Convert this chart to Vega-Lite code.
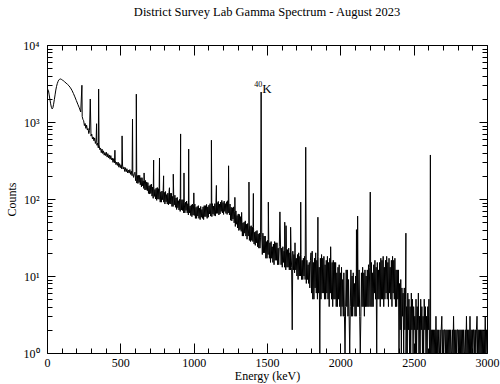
{
  "$schema": "https://vega.github.io/schema/vega-lite/v6.json",
  "width": 440,
  "height": 308,
  "autosize": "none",
  "padding": {"left": 47, "top": 45, "right": 13, "bottom": 31},
  "title": {
    "text": "District Survey Lab Gamma Spectrum - August 2023",
    "font": "Liberation Serif",
    "fontSize": 12.5,
    "fontWeight": "normal",
    "color": "black",
    "anchor": "middle",
    "offset": 21
  },
  "config": {"view": {"stroke": null}, "axis": {"grid": false, "labelFlush": false}},
  "datasets": {
    "spectrum": [
      {"e":0,"c":2250},{"e":5,"c":2650},{"e":10,"c":2550},{"e":15,"c":2250},{"e":20,"c":1950},{"e":25,"c":1720},{"e":30,"c":1550},{"e":35,"c":1480},{"e":40,"c":1530},{"e":45,"c":1700},
      {"e":50,"c":1950},{"e":55,"c":2250},{"e":60,"c":2600},{"e":65,"c":2900},{"e":70,"c":3150},{"e":75,"c":3350},{"e":80,"c":3500},{"e":85,"c":3580},{"e":90,"c":3620},{"e":95,"c":3610},
      {"e":100,"c":3560},{"e":105,"c":3500},{"e":110,"c":3450},{"e":115,"c":3400},{"e":120,"c":3330},{"e":130,"c":3200},{"e":140,"c":3080},{"e":150,"c":2950},{"e":160,"c":2780},{"e":170,"c":2580},
      {"e":180,"c":2350},{"e":190,"c":2120},{"e":200,"c":1900},{"e":210,"c":1700},{"e":220,"c":1530},{"e":230,"c":1350},{"e":238,"c":3000},{"e":240,"c":1180},{"e":245,"c":1080},
      {"e":250,"c":1039},{"e":255,"c":898},{"e":260,"c":956},{"e":265,"c":827},{"e":270,"c":910},{"e":275,"c":787},{"e":280,"c":822},{"e":285,"c":707},{"e":290,"c":774},{"e":295,"c":1990},
      {"e":300,"c":656},{"e":305,"c":698},{"e":310,"c":602},{"e":315,"c":639},{"e":320,"c":570},{"e":325,"c":621},{"e":330,"c":526},{"e":335,"c":575},{"e":338,"c":950},{"e":340,"c":499},
      {"e":345,"c":532},{"e":350,"c":461},{"e":352,"c":2680},{"e":355,"c":505},{"e":360,"c":437},{"e":365,"c":460},{"e":370,"c":400},{"e":375,"c":445},{"e":380,"c":390},{"e":385,"c":422},
      {"e":390,"c":371},{"e":395,"c":402},{"e":400,"c":366},{"e":405,"c":404},{"e":410,"c":350},{"e":415,"c":388},{"e":420,"c":342},{"e":425,"c":373},{"e":430,"c":329},{"e":435,"c":366},
      {"e":440,"c":322},{"e":445,"c":341},{"e":450,"c":299},{"e":455,"c":335},{"e":460,"c":295},{"e":463,"c":430},{"e":465,"c":319},{"e":470,"c":280},{"e":475,"c":301},{"e":480,"c":273},
      {"e":485,"c":301},{"e":490,"c":259},{"e":495,"c":288},{"e":500,"c":255},{"e":505,"c":278},{"e":510,"c":246},{"e":512,"c":660},{"e":515,"c":276},{"e":520,"c":245},{"e":525,"c":260},
      {"e":530,"c":228},{"e":535,"c":255},{"e":540,"c":226},{"e":545,"c":247},{"e":550,"c":218},{"e":555,"c":237},{"e":560,"c":217},{"e":565,"c":241},{"e":570,"c":209},{"e":575,"c":230},
      {"e":580,"c":201},{"e":583,"c":1090},{"e":585,"c":217},{"e":590,"c":191},{"e":595,"c":213},
      {"e":600,"c":223},{"e":604,"c":173},{"e":608,"c":221},{"e":609,"c":2300},{"e":612,"c":161},{"e":616,"c":202},{"e":620,"c":159},{"e":624,"c":203},{"e":628,"c":164},{"e":632,"c":203},
      {"e":636,"c":153},{"e":640,"c":189},{"e":644,"c":144},{"e":648,"c":189},{"e":652,"c":148},{"e":656,"c":172},{"e":660,"c":137},{"e":662,"c":218},{"e":664,"c":175},{"e":668,"c":131},
      {"e":672,"c":174},{"e":676,"c":132},{"e":680,"c":166},{"e":684,"c":128},{"e":688,"c":163},{"e":692,"c":118},{"e":696,"c":148},{"e":700,"c":116},{"e":704,"c":153},{"e":708,"c":118},
      {"e":712,"c":156},{"e":716,"c":109},{"e":720,"c":143},{"e":724,"c":102},{"e":727,"c":320},{"e":728,"c":147},{"e":732,"c":108},{"e":736,"c":133},{"e":740,"c":100},{"e":744,"c":138},
      {"e":748,"c":96},{"e":752,"c":141},{"e":756,"c":100},{"e":760,"c":136},{"e":764,"c":99},{"e":767,"c":340},{"e":768,"c":136},{"e":772,"c":91},{"e":776,"c":124},{"e":780,"c":91},
      {"e":784,"c":127},{"e":788,"c":98},{"e":792,"c":130},{"e":795,"c":200},{"e":796,"c":91},{"e":800,"c":122},{"e":804,"c":86},{"e":808,"c":125},{"e":812,"c":92},{"e":816,"c":114},
      {"e":820,"c":86},{"e":824,"c":119},{"e":828,"c":84},{"e":832,"c":123},{"e":835,"c":140},{"e":836,"c":87},{"e":840,"c":119},{"e":844,"c":86},{"e":848,"c":119},{"e":852,"c":80},
      {"e":856,"c":108},{"e":860,"c":80},{"e":861,"c":210},{"e":864,"c":110},{"e":868,"c":84},{"e":872,"c":112},{"e":876,"c":78},{"e":880,"c":103},{"e":884,"c":73},{"e":888,"c":105},
      {"e":892,"c":77},{"e":896,"c":95},{"e":900,"c":72},{"e":904,"c":99},{"e":908,"c":69},{"e":911,"c":700},{"e":912,"c":101},{"e":916,"c":72},{"e":920,"c":98},{"e":924,"c":71},
      {"e":928,"c":98},{"e":932,"c":66},{"e":934,"c":218},{"e":936,"c":90},{"e":940,"c":66},{"e":944,"c":91},{"e":948,"c":71},{"e":952,"c":94},{"e":956,"c":66},{"e":960,"c":87},
      {"e":964,"c":62},{"e":966,"c":445},{"e":968,"c":89},{"e":972,"c":66},{"e":976,"c":81},{"e":980,"c":61},{"e":984,"c":84},{"e":988,"c":59},{"e":992,"c":86},{"e":996,"c":62},
      {"e":1000,"c":85},{"e":1001,"c":120},{"e":1004,"c":61},{"e":1008,"c":86},{"e":1012,"c":56},{"e":1016,"c":78},{"e":1020,"c":56},{"e":1024,"c":80},{"e":1028,"c":60},{"e":1032,"c":82},
      {"e":1036,"c":56},{"e":1040,"c":76},{"e":1044,"c":54},{"e":1048,"c":80},{"e":1052,"c":58},{"e":1056,"c":73},{"e":1060,"c":56},{"e":1064,"c":79},{"e":1068,"c":54},{"e":1072,"c":82},
      {"e":1076,"c":59},{"e":1080,"c":82},{"e":1084,"c":59},{"e":1088,"c":85},{"e":1092,"c":56},{"e":1096,"c":79},{"e":1100,"c":58},{"e":1104,"c":83},{"e":1108,"c":64},{"e":1112,"c":87},
      {"e":1116,"c":60},{"e":1120,"c":83},{"e":1121,"c":580},{"e":1124,"c":59},{"e":1128,"c":87},{"e":1132,"c":64},{"e":1136,"c":81},{"e":1140,"c":61},{"e":1144,"c":87},{"e":1148,"c":60},
      {"e":1152,"c":91},{"e":1155,"c":150},{"e":1156,"c":65},{"e":1160,"c":90},{"e":1164,"c":65},{"e":1168,"c":93},{"e":1172,"c":62},{"e":1176,"c":86},{"e":1180,"c":64},{"e":1184,"c":91},
      {"e":1188,"c":69},{"e":1192,"c":96},{"e":1196,"c":66},{"e":1200,"c":90},{"e":1204,"c":63},{"e":1208,"c":94},{"e":1212,"c":69},{"e":1216,"c":87},{"e":1220,"c":65},{"e":1224,"c":92},
      {"e":1228,"c":63},{"e":1232,"c":95},{"e":1236,"c":66},{"e":1238,"c":270},{"e":1240,"c":89},{"e":1244,"c":62},{"e":1248,"c":86},{"e":1252,"c":53},{"e":1256,"c":78},{"e":1260,"c":52},
      {"e":1264,"c":77},{"e":1268,"c":55},{"e":1272,"c":79},{"e":1276,"c":49},{"e":1280,"c":69},{"e":1281,"c":105},{"e":1284,"c":44},{"e":1288,"c":70},{"e":1292,"c":47},{"e":1296,"c":61},
      {"e":1300,"c":42},{"e":1304,"c":64},{"e":1308,"c":39},{"e":1312,"c":63},{"e":1316,"c":40},{"e":1320,"c":59},{"e":1324,"c":38},{"e":1327,"c":67},{"e":1328,"c":58},{"e":1332,"c":33},
      {"e":1336,"c":49},{"e":1340,"c":33},{"e":1344,"c":50},{"e":1348,"c":36},{"e":1352,"c":52},{"e":1356,"c":33},{"e":1360,"c":47},{"e":1364,"c":30},{"e":1368,"c":48},{"e":1372,"c":33},
      {"e":1376,"c":42},{"e":1377,"c":166},{"e":1380,"c":29},{"e":1384,"c":44},{"e":1388,"c":28},{"e":1392,"c":45},{"e":1396,"c":29},{"e":1400,"c":43},{"e":1404,"c":28},{"e":1407,"c":118},
      {"e":1408,"c":43},{"e":1412,"c":26},{"e":1416,"c":37},{"e":1420,"c":25},{"e":1424,"c":38},{"e":1428,"c":27},{"e":1432,"c":39},{"e":1436,"c":24},{"e":1440,"c":35},{"e":1444,"c":23},
      {"e":1448,"c":36},{"e":1452,"c":23},{"e":1456,"c":32},{"e":1460,"c":2450},{"e":1464,"c":35},{"e":1468,"c":19},{"e":1472,"c":36},{"e":1476,"c":20},{"e":1480,"c":33},{"e":1484,"c":20},
      {"e":1488,"c":33},{"e":1492,"c":17},{"e":1496,"c":28},{"e":1500,"c":17},{"e":1504,"c":29},{"e":1508,"c":19},{"e":1509,"c":91},{"e":1512,"c":30},{"e":1516,"c":17},{"e":1520,"c":27},
      {"e":1524,"c":15},{"e":1528,"c":28},{"e":1532,"c":17},{"e":1536,"c":24},{"e":1540,"c":15},{"e":1544,"c":26},{"e":1548,"c":14},{"e":1552,"c":28},{"e":1556,"c":16},{"e":1560,"c":27},
      {"e":1564,"c":16},{"e":1568,"c":27},{"e":1572,"c":14},{"e":1576,"c":23},{"e":1580,"c":14},{"e":1584,"c":24},{"e":1588,"c":68},{"e":1592,"c":26},{"e":1596,"c":14},{"e":1600,"c":23},
      {"e":1604,"c":13},{"e":1608,"c":24},{"e":1612,"c":15},{"e":1616,"c":21},{"e":1620,"c":13},{"e":1621,"c":50},{"e":1624,"c":22},{"e":1628,"c":12},{"e":1630,"c":45},{"e":1632,"c":23},
      {"e":1636,"c":13},{"e":1640,"c":22},{"e":1644,"c":13},{"e":1648,"c":23},{"e":1652,"c":12},{"e":1656,"c":20},{"e":1660,"c":12},{"e":1661,"c":43},{"e":1664,"c":21},{"e":1668,"c":13},
      {"e":1672,"c":2},{"e":1676,"c":21},{"e":1680,"c":12},{"e":1684,"c":19},{"e":1688,"c":11},{"e":1691,"c":27},{"e":1692,"c":20},{"e":1696,"c":12},{"e":1700,"c":17},{"e":1704,"c":10},
      {"e":1708,"c":19},{"e":1712,"c":9},{"e":1716,"c":20},{"e":1720,"c":10},{"e":1724,"c":18},{"e":1728,"c":10},{"e":1730,"c":91},{"e":1732,"c":19},{"e":1736,"c":9},{"e":1740,"c":16},
      {"e":1744,"c":9},{"e":1748,"c":17},{"e":1752,"c":10},{"e":1756,"c":18},{"e":1760,"c":9},{"e":1764,"c":470},{"e":1768,"c":8},{"e":1772,"c":16},{"e":1776,"c":9},{"e":1780,"c":14},
      {"e":1784,"c":8},{"e":1788,"c":15},{"e":1792,"c":7},{"e":1796,"c":16},{"e":1800,"c":20},{"e":1804,"c":6},{"e":1808,"c":21},{"e":1812,"c":5},{"e":1816,"c":15},{"e":1820,"c":5},
      {"e":1824,"c":17},{"e":1828,"c":7},{"e":1832,"c":20},{"e":1836,"c":6},{"e":1840,"c":16},{"e":1844,"c":5},{"e":1847,"c":58},{"e":1848,"c":18},{"e":1852,"c":6},{"e":1856,"c":13},
      {"e":1860,"c":1},{"e":1864,"c":17},{"e":1868,"c":5},{"e":1872,"c":19},{"e":1876,"c":6},{"e":1880,"c":17},{"e":1884,"c":6},{"e":1888,"c":18},{"e":1892,"c":5},{"e":1896,"c":14},
      {"e":1900,"c":5},{"e":1904,"c":16},{"e":1908,"c":6},{"e":1912,"c":18},{"e":1916,"c":5},{"e":1920,"c":15},{"e":1924,"c":4},{"e":1928,"c":17},{"e":1932,"c":6},{"e":1934,"c":24},
      {"e":1936,"c":12},{"e":1940,"c":5},{"e":1944,"c":15},{"e":1948,"c":4},{"e":1952,"c":16},{"e":1956,"c":5},{"e":1960,"c":15},{"e":1964,"c":5},{"e":1968,"c":15},{"e":1972,"c":4},
      {"e":1976,"c":11},{"e":1980,"c":4},{"e":1984,"c":13},{"e":1988,"c":5},{"e":1992,"c":14},{"e":1996,"c":4},{"e":2000,"c":11},{"e":2004,"c":3},{"e":2008,"c":13},{"e":2012,"c":4},
      {"e":2016,"c":9},{"e":2020,"c":3},{"e":2024,"c":11},{"e":2028,"c":3},{"e":2032,"c":1},{"e":2036,"c":4},{"e":2040,"c":12},{"e":2044,"c":4},{"e":2048,"c":12},{"e":2052,"c":3},
      {"e":2056,"c":9},{"e":2060,"c":3},{"e":2064,"c":1},{"e":2068,"c":4},{"e":2072,"c":12},{"e":2076,"c":3},{"e":2080,"c":10},{"e":2084,"c":3},{"e":2088,"c":11},{"e":2092,"c":4},
      {"e":2096,"c":8},{"e":2100,"c":3},{"e":2104,"c":10},{"e":2108,"c":3},{"e":2110,"c":40},{"e":2112,"c":12},{"e":2116,"c":4},{"e":2118,"c":60},{"e":2120,"c":11},{"e":2124,"c":4},
      {"e":2128,"c":12},{"e":2132,"c":3},{"e":2136,"c":1},{"e":2140,"c":3},{"e":2144,"c":11},{"e":2148,"c":4},{"e":2152,"c":13},{"e":2156,"c":4},{"e":2160,"c":11},{"e":2164,"c":3},
      {"e":2168,"c":12},{"e":2172,"c":4},{"e":2176,"c":10},{"e":2180,"c":4},{"e":2184,"c":12},{"e":2188,"c":4},{"e":2192,"c":14},{"e":2196,"c":4},{"e":2200,"c":13},{"e":2204,"c":123},
      {"e":2208,"c":4},{"e":2212,"c":15},{"e":2216,"c":4},{"e":2220,"c":11},{"e":2224,"c":4},{"e":2228,"c":14},{"e":2232,"c":6},{"e":2236,"c":16},{"e":2240,"c":5},{"e":2244,"c":13},
      {"e":2248,"c":1},{"e":2252,"c":15},{"e":2256,"c":5},{"e":2260,"c":12},{"e":2264,"c":5},{"e":2268,"c":15},{"e":2272,"c":4},{"e":2276,"c":17},{"e":2280,"c":5},{"e":2284,"c":16},
      {"e":2288,"c":5},{"e":2292,"c":18},{"e":2296,"c":4},{"e":2300,"c":13},{"e":2304,"c":5},{"e":2308,"c":16},{"e":2312,"c":6},{"e":2316,"c":18},{"e":2320,"c":5},{"e":2324,"c":15},
      {"e":2328,"c":4},{"e":2332,"c":17},{"e":2336,"c":6},{"e":2340,"c":13},{"e":2344,"c":5},{"e":2348,"c":16},{"e":2352,"c":4},{"e":2356,"c":18},{"e":2360,"c":6},{"e":2364,"c":16},
      {"e":2368,"c":5},{"e":2372,"c":17},{"e":2376,"c":4},{"e":2380,"c":12},{"e":2384,"c":4},{"e":2388,"c":12},{"e":2392,"c":5},{"e":2396,"c":12},{"e":2400,"c":1},{"e":2404,"c":8},
      {"e":2408,"c":2},{"e":2412,"c":9},{"e":2416,"c":1},{"e":2420,"c":7},{"e":2424,"c":3},{"e":2428,"c":6},{"e":2432,"c":1},{"e":2436,"c":7},{"e":2440,"c":2},{"e":2444,"c":5},
      {"e":2447,"c":36},{"e":2448,"c":1},{"e":2452,"c":4},{"e":2456,"c":1},{"e":2460,"c":6},{"e":2464,"c":2},{"e":2468,"c":5},{"e":2472,"c":1},{"e":2476,"c":4},{"e":2480,"c":1},
      {"e":2484,"c":6},{"e":2488,"c":2},{"e":2492,"c":5},{"e":2496,"c":1},{"e":2500,"c":4},{"e":2504,"c":2},{"e":2508,"c":3},{"e":2512,"c":1},{"e":2516,"c":5},{"e":2520,"c":1},
      {"e":2524,"c":4},{"e":2528,"c":2},{"e":2532,"c":6},{"e":2536,"c":1},{"e":2540,"c":3},{"e":2544,"c":1},{"e":2548,"c":5},{"e":2552,"c":2},{"e":2556,"c":4},{"e":2560,"c":1},
      {"e":2564,"c":3},{"e":2568,"c":1},{"e":2572,"c":5},{"e":2576,"c":2},{"e":2580,"c":4},{"e":2584,"c":1},{"e":2588,"c":3},{"e":2592,"c":1},{"e":2596,"c":4},{"e":2600,"c":2},
      {"e":2604,"c":5},{"e":2608,"c":1},{"e":2612,"c":3},{"e":2614,"c":373},{"e":2616,"c":1},{"e":2620,"c":2},{"e":2624,"c":1},{"e":2628,"c":2},{"e":2632,"c":1},{"e":2636,"c":2},
      {"e":2640,"c":1},{"e":2644,"c":2},{"e":2648,"c":1},{"e":2652,"c":3},{"e":2656,"c":1},{"e":2660,"c":2},{"e":2664,"c":1},{"e":2668,"c":2},{"e":2672,"c":1},{"e":2676,"c":1},
      {"e":2680,"c":2},{"e":2684,"c":1},{"e":2688,"c":2},{"e":2692,"c":3},{"e":2696,"c":1},{"e":2700,"c":2},{"e":2704,"c":1},{"e":2708,"c":2},{"e":2712,"c":2},{"e":2716,"c":1},
      {"e":2720,"c":2},{"e":2724,"c":1},{"e":2728,"c":2},{"e":2732,"c":1},{"e":2736,"c":2},{"e":2740,"c":1},{"e":2744,"c":2},{"e":2748,"c":1},{"e":2752,"c":2},{"e":2756,"c":1},
      {"e":2760,"c":1},{"e":2764,"c":2},{"e":2768,"c":1},{"e":2772,"c":3},{"e":2776,"c":1},{"e":2780,"c":2},{"e":2784,"c":1},{"e":2788,"c":2},{"e":2792,"c":1},{"e":2796,"c":2},
      {"e":2800,"c":2},{"e":2804,"c":1},{"e":2808,"c":2},{"e":2812,"c":1},{"e":2816,"c":2},{"e":2820,"c":1},{"e":2824,"c":2},{"e":2828,"c":1},{"e":2832,"c":2},{"e":2836,"c":1},
      {"e":2840,"c":2},{"e":2844,"c":1},{"e":2848,"c":1},{"e":2852,"c":2},{"e":2856,"c":1},{"e":2860,"c":3},{"e":2864,"c":1},{"e":2868,"c":2},{"e":2872,"c":1},{"e":2876,"c":2},
      {"e":2880,"c":1},{"e":2884,"c":3},{"e":2888,"c":1},{"e":2892,"c":2},{"e":2896,"c":1},{"e":2900,"c":2},{"e":2904,"c":1},{"e":2908,"c":2},{"e":2912,"c":2},{"e":2916,"c":1},
      {"e":2920,"c":2},{"e":2924,"c":1},{"e":2928,"c":2},{"e":2932,"c":3},{"e":2936,"c":1},{"e":2940,"c":2},{"e":2944,"c":1},{"e":2948,"c":2},{"e":2952,"c":1},{"e":2956,"c":2},
      {"e":2960,"c":1},{"e":2964,"c":2},{"e":2968,"c":1},{"e":2972,"c":2},{"e":2976,"c":1},{"e":2980,"c":2},{"e":2984,"c":1},{"e":2988,"c":3},{"e":2992,"c":1},{"e":2996,"c":2},
      {"e":3000,"c":1}
    ],
    "isotope": [
      {"e": 1460, "c": 2450, "mass": "40", "element": "K"}
    ],
    "frame": [
      {"e": 0, "c": 1}
    ]
  },
  "resolve": {
    "scale": {"x": "shared", "y": "shared"},
    "axis": {"x": "independent", "y": "independent"}
  },
  "layer": [
    {
      "data": {"name": "spectrum"},
      "mark": {"type": "line", "color": "black", "strokeWidth": 1, "clip": true},
      "encoding": {
        "x": {
          "field": "e", "type": "quantitative",
          "scale": {"domain": [0, 3000], "nice": false, "zero": false},
          "axis": {
            "orient": "bottom",
            "offset": -10,
            "values": [0, 500, 1000, 1500, 2000, 2500, 3000],
            "format": "d",
            "domain": false,
            "tickColor": "black",
            "tickWidth": 1,
            "tickSize": 10,
            "labelFont": "Liberation Serif",
            "labelFontSize": 12,
            "labelColor": "black",
            "labelPadding": 4,
            "title": "Energy (keV)",
            "titleFont": "Liberation Serif",
            "titleFontSize": 12,
            "titleFontWeight": "normal",
            "titleColor": "black",
            "titlePadding": 2
          }
        },
        "y": {
          "field": "c", "type": "quantitative",
          "scale": {"type": "log", "domain": [1, 10000], "nice": false},
          "axis": {
            "orient": "left",
            "offset": -8,
            "values": [1, 10, 100, 1000, 10000],
            "domain": false,
            "tickColor": "black",
            "tickWidth": 1,
            "tickSize": 8,
            "labelFont": "Liberation Serif",
            "labelFontSize": 12,
            "labelColor": "black",
            "labelPadding": 8,
            "labelExpr": "datum.value === 1 ? '10⁰' : datum.value === 10 ? '10¹' : datum.value === 100 ? '10²' : datum.value === 1000 ? '10³' : '10⁴'",
            "title": "Counts",
            "titleFont": "Liberation Serif",
            "titleFontSize": 12,
            "titleFontWeight": "normal",
            "titleColor": "black",
            "titlePadding": 4
          }
        }
      }
    },
    {
      "data": {"name": "isotope"},
      "mark": {"type": "text", "font": "Liberation Serif", "fontSize": 13, "color": "black", "align": "left", "baseline": "alphabetic", "dx": 1, "dy": 1},
      "encoding": {
        "x": {"field": "e", "type": "quantitative", "scale": {"domain": [0, 3000], "nice": false, "zero": false}, "axis": null},
        "y": {"field": "c", "type": "quantitative", "scale": {"type": "log", "domain": [1, 10000], "nice": false}, "axis": null},
        "text": {"field": "element"}
      }
    },
    {
      "data": {"name": "isotope"},
      "mark": {"type": "text", "font": "Liberation Serif", "fontSize": 8, "color": "black", "align": "right", "baseline": "alphabetic", "dx": 1, "dy": -5},
      "encoding": {
        "x": {"field": "e", "type": "quantitative", "scale": {"domain": [0, 3000], "nice": false, "zero": false}, "axis": null},
        "y": {"field": "c", "type": "quantitative", "scale": {"type": "log", "domain": [1, 10000], "nice": false}, "axis": null},
        "text": {"field": "mass"}
      }
    },
    {
      "data": {"name": "frame"},
      "mark": {"type": "point", "opacity": 0},
      "encoding": {
        "x": {
          "field": "e", "type": "quantitative",
          "scale": {"domain": [0, 3000], "nice": false, "zero": false},
          "axis": {"orient": "bottom", "offset": -5, "values": [100, 200, 300, 400, 600, 700, 800, 900, 1100, 1200, 1300, 1400, 1600, 1700, 1800, 1900, 2100, 2200, 2300, 2400, 2600, 2700, 2800, 2900], "tickColor": "black", "tickWidth": 1, "tickSize": 5, "labels": false, "domain": false, "title": null}
        },
        "y": {
          "field": "c", "type": "quantitative",
          "scale": {"type": "log", "domain": [1, 10000], "nice": false},
          "axis": {"orient": "left", "offset": -5, "values": [2, 3, 4, 5, 6, 7, 8, 9, 20, 30, 40, 50, 60, 70, 80, 90, 200, 300, 400, 500, 600, 700, 800, 900, 2000, 3000, 4000, 5000, 6000, 7000, 8000, 9000], "tickColor": "black", "tickWidth": 1, "tickSize": 5, "labels": false, "domain": false, "title": null}
        }
      }
    },
    {
      "data": {"name": "frame"},
      "mark": {"type": "point", "opacity": 0},
      "encoding": {
        "x": {
          "field": "e", "type": "quantitative",
          "scale": {"domain": [0, 3000], "nice": false, "zero": false},
          "axis": {"orient": "top", "offset": -10, "values": [0, 500, 1000, 1500, 2000, 2500, 3000], "tickColor": "black", "tickWidth": 1, "tickSize": 10, "labels": false, "domain": false, "title": null}
        },
        "y": {
          "field": "c", "type": "quantitative",
          "scale": {"type": "log", "domain": [1, 10000], "nice": false},
          "axis": {"orient": "right", "offset": -8, "values": [1, 10, 100, 1000, 10000], "tickColor": "black", "tickWidth": 1, "tickSize": 8, "labels": false, "domain": false, "title": null}
        }
      }
    },
    {
      "data": {"name": "frame"},
      "mark": {"type": "point", "opacity": 0},
      "encoding": {
        "x": {
          "field": "e", "type": "quantitative",
          "scale": {"domain": [0, 3000], "nice": false, "zero": false},
          "axis": {"orient": "top", "offset": -5, "values": [100, 200, 300, 400, 600, 700, 800, 900, 1100, 1200, 1300, 1400, 1600, 1700, 1800, 1900, 2100, 2200, 2300, 2400, 2600, 2700, 2800, 2900], "tickColor": "black", "tickWidth": 1, "tickSize": 5, "labels": false, "domain": false, "title": null}
        },
        "y": {
          "field": "c", "type": "quantitative",
          "scale": {"type": "log", "domain": [1, 10000], "nice": false},
          "axis": {"orient": "right", "offset": -5, "values": [2, 3, 4, 5, 6, 7, 8, 9, 20, 30, 40, 50, 60, 70, 80, 90, 200, 300, 400, 500, 600, 700, 800, 900, 2000, 3000, 4000, 5000, 6000, 7000, 8000, 9000], "tickColor": "black", "tickWidth": 1, "tickSize": 5, "labels": false, "domain": false, "title": null}
        }
      }
    },
    {
      "data": {"name": "frame"},
      "mark": {"type": "point", "opacity": 0},
      "encoding": {
        "x": {
          "field": "e", "type": "quantitative",
          "scale": {"domain": [0, 3000], "nice": false, "zero": false},
          "axis": {"orient": "bottom", "ticks": false, "labels": false, "domain": true, "domainColor": "black", "domainWidth": 1, "title": null}
        },
        "y": {
          "field": "c", "type": "quantitative",
          "scale": {"type": "log", "domain": [1, 10000], "nice": false},
          "axis": {"orient": "left", "ticks": false, "labels": false, "domain": true, "domainColor": "black", "domainWidth": 1, "title": null}
        }
      }
    },
    {
      "data": {"name": "frame"},
      "mark": {"type": "point", "opacity": 0},
      "encoding": {
        "x": {
          "field": "e", "type": "quantitative",
          "scale": {"domain": [0, 3000], "nice": false, "zero": false},
          "axis": {"orient": "top", "ticks": false, "labels": false, "domain": true, "domainColor": "black", "domainWidth": 1, "title": null}
        },
        "y": {
          "field": "c", "type": "quantitative",
          "scale": {"type": "log", "domain": [1, 10000], "nice": false},
          "axis": {"orient": "right", "ticks": false, "labels": false, "domain": true, "domainColor": "black", "domainWidth": 1, "title": null}
        }
      }
    }
  ]
}
